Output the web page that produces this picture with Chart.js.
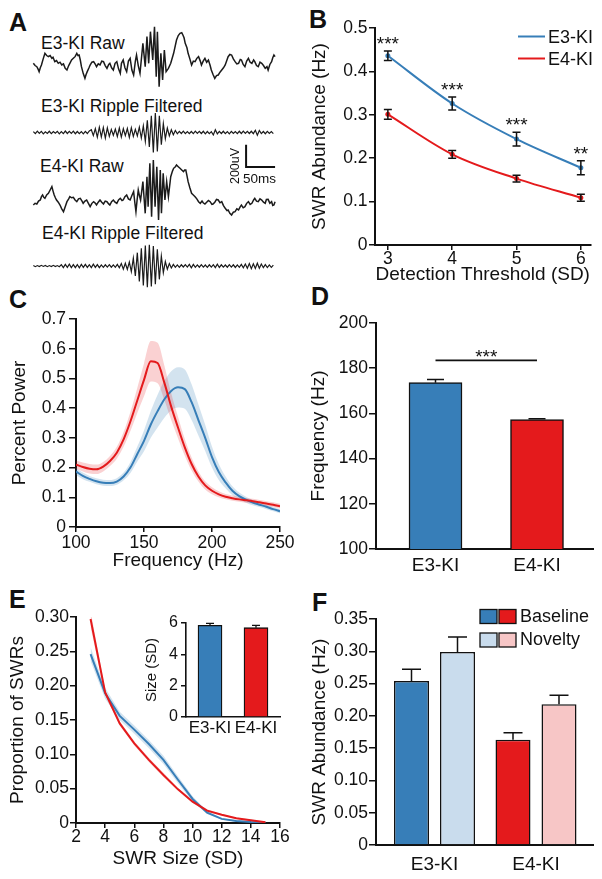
<!DOCTYPE html>
<html>
<head>
<meta charset="utf-8">
<script src="https://cdn.jsdelivr.net/npm/chart.js@4.4.1/dist/chart.umd.min.js"></script>
<style>
html,body{margin:0;padding:0;background:#fff;}
body{position:relative;width:602px;height:879px;overflow:hidden;font-family:'Liberation Sans',Arial,Helvetica,sans-serif;color:#111;}
canvas{position:absolute;}
.t{position:absolute;white-space:nowrap;font-size:17.5px;line-height:17px;}
.p{position:absolute;font-weight:bold;font-size:25px;line-height:25px;}
</style>
</head>
<body>
<div class="p" style="left:9px;top:9.7px">A</div>
<div class="p" style="left:309px;top:6.7px">B</div>
<div class="p" style="left:9px;top:286.7px">C</div>
<div class="p" style="left:311px;top:283.7px">D</div>
<div class="p" style="left:9px;top:586.7px">E</div>
<div class="p" style="left:312px;top:589.7px">F</div>
<div class="t" style="left:41px;top:35px">E3-KI Raw</div>
<div class="t" style="left:41px;top:97.8px">E3-KI Ripple Filtered</div>
<div class="t" style="left:40px;top:157.8px">E4-KI Raw</div>
<div class="t" style="left:42px;top:224.5px">E4-KI Ripple Filtered</div>
<script>
// ================= DATA =================
// Panel A: example traces (time in ms, amplitude in µV)
const e3RawTimeMs = [0,3,6,8,10,12,14,17,20,23,26,29,32,34,37,40,43,46,49,52,55,58,61,63,66,69,72,75,77,79,81,83,86,89,91,93,96,98,101,104,107,109,112,115,118,121,124,127,130,132,135,138,141,144,147,150,152,155,158,161,164,167,170,173,176,178,181,184,189,193,196,199,202,206,209,212,214,217,220,223,226,229,233,237,242,247,250,253,256,258,260,262,265,267,270,273,276,279,282,285,288,290,293,296,299,302,305,307,310,313,316,319,322,325,328,331,334,336,339,342,345,348,351,354,357,359,362,365,368,371,374,377,380,382,385,388,391,394,397,400,403,405,408,411,413,415,417];
const e3RawUv = [0,-20,-30,-50,-75,-40,-15,40,90,70,60,70,45,55,15,25,0,10,-15,-5,-45,-60,-20,0,30,45,60,90,70,75,30,-30,-90,-135,-100,-75,-40,-15,10,15,-10,-30,-5,-15,20,15,-20,-45,-10,0,-40,-60,0,15,-50,-90,0,30,-40,-75,20,45,-60,-105,20,75,-20,-90,180,-30,240,0,285,30,330,-120,285,-210,90,-150,120,-75,-45,0,90,210,250,270,275,255,230,180,140,90,40,-15,20,15,45,60,20,-15,20,45,10,30,-20,-60,-100,-135,-110,-105,-80,-60,-40,-15,30,60,80,75,40,15,-5,0,35,30,-10,-30,20,45,10,0,30,15,-20,-30,10,0,-20,-45,-30,-60,-10,15,50,75,60];
const rippleDtMs = 3.45;
const e3RippleUv = [8,-10,12,-8,10,-12,6,-9,11,-10,9,-7,10,-12,8,-10,13,-9,10,-8,12,-11,9,-10,8,-12,10,-9,14,
  25,-28,35,-42,48,-40,45,-50,42,-35,28,-25,30,-36,40,-42,34,-28,36,-45,42,-35,28,-30,48,
  -50,60,-80,110,-130,150,-180,175,-170,150,-110,80,-55,40,-30,25,-20,18,
  -12,10,-9,12,-10,8,-11,9,-10,12,-8,10,-9,11,-12,9,-10,8,-22,25,-12,10,-9,11,-10,8,-12,10,-9,8,-10,11,-9,12,-8,10,-9,11,-10,20,-24,18,-10,9,-11,10,-8,9,-10];
const e4RawTimeMs = [0,3,6,9,12,14,16,18,20,23,26,29,32,34,36,38,40,43,46,49,52,55,58,61,63,66,69,72,75,78,81,84,86,89,92,95,98,101,104,107,109,112,115,118,121,124,127,130,132,135,138,141,144,147,150,153,155,158,161,164,167,170,173,175,177,179,181,183,185,187,189,191,193,196,198,201,204,207,210,213,216,219,221,224,227,230,233,237,240,242,245,247,250,253,256,259,261,263,265,267,270,273,276,279,282,285,288,291,293,296,299,302,305,308,310,313,316,319,322,325,328,331,334,336,339,342,345,348,351,354,357,359,362,365,368,371,374,377,380,382,385,388,391,394,397,400,402,405,408,411,413,415,417];
const e4RawUv = [-45,-30,-36,-10,0,30,45,25,15,45,60,90,120,80,45,20,0,-20,-45,-80,-105,-60,-15,10,30,20,24,0,-15,10,15,-10,-30,-10,0,-30,-60,-30,-15,-30,-45,-20,0,-20,-36,-10,-15,-35,-45,-15,0,-20,-30,0,15,-5,0,30,45,10,0,40,75,-20,-105,0,90,40,0,80,165,20,-120,210,-60,330,-150,360,-60,300,-180,270,-120,240,0,165,30,210,260,285,300,315,300,285,270,255,270,270,220,165,110,60,45,30,10,-15,-30,-10,-25,-36,-20,-5,-15,-40,-36,-20,5,0,-25,-15,-50,-75,-95,-90,-120,-135,-110,-105,-80,-90,-60,-45,-70,-60,-30,-15,-40,-30,0,15,-10,-15,10,0,-20,-30,5,6,-30,-15,-50,-45,-15];
const e4RippleUv = [5,-6,4,-5,6,-4,5,-6,4,-5,6,-5,4,-6,
  12,-15,14,-12,16,-14,12,-15,13,-16,14,-12,15,-13,12,-14,16,-12,13,-15,
  10,-12,11,-10,12,-11,10,-12,14,-16,
  22,-28,25,-30,35,
  -50,70,-90,120,-140,160,-175,185,-190,190,-185,180,-165,150,-120,90,-60,40,-28,
  22,-18,14,-12,10,-12,11,-9,12,-10,14,-16,15,-12,10,-11,12,-10,9,-12,11,-10,12,-14,16,-13,11,-10,9,-11,12,-10,11,-13,10,-12,14,-16,18,-20,22,-24,20,-22,25,-20,18,-15,12,-14,10,-12,8];
const scaleBarUv = 200, scaleBarMs = 50;

// Panel B
const thresholdsSD = [3,4,5,6];
const e3Abundance = [0.436,0.326,0.244,0.178];
const e3AbundanceSem = [0.011,0.015,0.016,0.016];
const e4Abundance = [0.301,0.209,0.153,0.109];
const e4AbundanceSem = [0.011,0.009,0.008,0.008];
const thresholdSig = ['***','***','***','**'];

// Panel C
const freqHz = [100,105,110,115,120,125,130,135,140,145,150,155,160,165,170,175,180,185,190,195,200,205,210,215,220,225,230,235,240,245,250];
const e3Power = [0.187,0.172,0.162,0.154,0.149,0.148,0.153,0.170,0.200,0.245,0.290,0.345,0.390,0.430,0.458,0.470,0.464,0.420,0.360,0.300,0.235,0.185,0.150,0.122,0.104,0.092,0.082,0.075,0.068,0.060,0.053];
const e3PowerSem = [0.012,0.011,0.010,0.010,0.010,0.010,0.011,0.013,0.018,0.025,0.035,0.045,0.055,0.062,0.066,0.068,0.066,0.060,0.052,0.044,0.035,0.027,0.020,0.015,0.012,0.010,0.009,0.008,0.008,0.007,0.007];
const e4Power = [0.210,0.202,0.196,0.194,0.203,0.222,0.250,0.295,0.355,0.425,0.495,0.558,0.552,0.485,0.405,0.335,0.268,0.212,0.170,0.140,0.122,0.110,0.102,0.097,0.093,0.090,0.087,0.083,0.079,0.075,0.070];
const e4PowerSem = [0.014,0.015,0.016,0.016,0.016,0.017,0.020,0.025,0.032,0.042,0.055,0.068,0.068,0.058,0.045,0.036,0.028,0.022,0.017,0.014,0.012,0.010,0.009,0.009,0.008,0.008,0.008,0.008,0.008,0.008,0.008];

// Panel D
const genotypes = ['E3-KI','E4-KI'];
const rippleFreqHz = [173.6,157.3];
const rippleFreqSem = [1.4,0.3];
const freqSigLevel = 183.5;
const freqSig = '***';

// Panel E
const swrSizeSD = [3,4,5,6,7,8,9,10,11,12,13,14,15];
const e3Proportion = [0.246,0.189,0.156,0.136,0.115,0.092,0.063,0.035,0.015,0.006,0.003,0.0015,0.0005];
const e3ProportionSem = [0.010,0.008,0.006,0.006,0.006,0.006,0.005,0.004,0.002,0.001,0.001,0.001,0.0005];
const e4Proportion = [0.297,0.190,0.145,0.116,0.092,0.070,0.049,0.031,0.018,0.012,0.007,0.004,0.001];
const e4ProportionSem = [0.012,0.004,0.003,0.003,0.003,0.003,0.002,0.002,0.002,0.001,0.001,0.001,0.001];
const swrSizeMean = [5.85,5.70];
const swrSizeSem = [0.12,0.15];

// Panel F
const conditions = ['Baseline','Novelty'];
const baselineAbundance = [0.254,0.163];
const baselineSem = [0.018,0.011];
const noveltyAbundance = [0.299,0.218];
const noveltySem = [0.023,0.014];

// ================= STYLE / HELPERS =================
const INK = '#111111';
const BLUE = '#377EB8', RED = '#E41A1C', LBLUE = '#C9DCED', PINK = '#F7C6C6';
const BLUE_BAND = 'rgba(55,126,184,0.22)', RED_BAND = 'rgba(228,26,28,0.2)';
const FAM = "'Liberation Sans', Arial, Helvetica, sans-serif";
Chart.defaults.font.family = FAM;
Chart.defaults.color = INK;
Chart.defaults.animation = false;
Chart.defaults.responsive = false;
Chart.defaults.events = [];
Chart.defaults.plugins.legend.display = false;
Chart.defaults.plugins.tooltip.enabled = false;

function canvasAt(left, top, w, h) {
  const c = document.createElement('canvas');
  c.width = w; c.height = h;
  c.style.left = left + 'px'; c.style.top = top + 'px';
  c.style.width = w + 'px'; c.style.height = h + 'px';
  document.body.appendChild(c);
  return c.getContext('2d');
}

function axis(o) {
  const a = {
    type: 'linear', position: o.pos, min: o.min, max: o.max, offset: false,
    afterFit: s => { if (o.pos === 'left') s.width = o.size; else s.height = o.size; },
    border: {display: true, color: INK, width: o.bw || 2},
    grid: o.noTicks ? {display: false, drawTicks: false, offset: false}
      : {display: true, offset: false, drawOnChartArea: false, drawTicks: true, tickLength: o.tl || 6, color: INK, lineWidth: 1.5},
    ticks: {color: INK, font: {size: o.fs || 17.5, lineHeight: 1}, padding: o.pad || 0, autoSkip: false, maxRotation: 0, minRotation: 0},
    title: o.title ? {display: true, text: o.title, color: INK, font: {size: o.tfs || 19, lineHeight: 1.2},
      padding: o.pos === 'left' ? {top: o.tpad, bottom: 0} : {top: 0, bottom: o.tpad}} : {display: false}
  };
  if (o.step) a.ticks.stepSize = o.step;
  if (o.fmt) a.ticks.callback = o.fmt;
  if (o.at) a.afterBuildTicks = s => { s.ticks = o.at.map(v => ({value: v})); };
  return a;
}
const fmtDec = d => (v => v === 0 ? '0' : Number(v).toFixed(d));
const pts = (xs, ys) => xs.map((x, i) => ({x: x, y: ys[i]}));

const errorBars = {
  id: 'errorBars',
  afterDatasetsDraw(chart) {
    const ctx = chart.ctx;
    chart.data.datasets.forEach((ds, di) => {
      if (!ds.errors) return;
      const meta = chart.getDatasetMeta(di);
      const ys = chart.scales[meta.yAxisID];
      ctx.save();
      ctx.strokeStyle = INK; ctx.lineWidth = ds.errLineWidth || 1.5;
      meta.data.forEach((el, i) => {
        const d = ds.data[i];
        const v = typeof d === 'object' ? d.y : d;
        const e = ds.errors[i];
        const x = el.x;
        const yTop = ys.getPixelForValue(v + e);
        const yBot = ds.errUpperOnly ? ys.getPixelForValue(v) : ys.getPixelForValue(v - e);
        const cw = ds.errCap;
        ctx.beginPath();
        ctx.moveTo(x, yTop); ctx.lineTo(x, yBot);
        ctx.moveTo(x - cw, yTop); ctx.lineTo(x + cw, yTop);
        if (!ds.errUpperOnly) { ctx.moveTo(x - cw, yBot); ctx.lineTo(x + cw, yBot); }
        ctx.stroke();
      });
      ctx.restore();
    });
  }
};

// ================= PANEL A =================
function traceChart(left, top, w, h, xs, ys, xr, yr, lw, extraPlugins, pluginOpts) {
  return new Chart(canvasAt(left, top, w, h), {
    type: 'line',
    data: {datasets: [{data: pts(xs, ys), borderColor: '#1b1b1b', borderWidth: lw, pointRadius: 0, tension: 0, fill: false}]},
    options: {
      layout: {padding: 0},
      scales: {x: {type: 'linear', display: false, min: xr[0], max: xr[1]}, y: {type: 'linear', display: false, min: yr[0], max: yr[1]}},
      plugins: pluginOpts || {}
    },
    plugins: extraPlugins || []
  });
}
const traceX = [-5.75, 425.5];
const rippleTime = arr => arr.map((_, i) => i * rippleDtMs);
traceChart(30, 20, 250, 80, e3RawTimeMs, e3RawUv, traceX, [-330, 390], 1.5);
traceChart(30, 108, 250, 50, rippleTime(e3RippleUv), e3RippleUv, traceX, [-229.5, 220.5], 1.2);

const scaleBar = {
  id: 'scaleBar',
  afterDraw(chart, args, o) {
    const {ctx, scales: {x, y}} = chart;
    const x0 = x.getPixelForValue(o.t), x1 = x.getPixelForValue(o.t + scaleBarMs);
    const y0 = y.getPixelForValue(o.v), y1 = y.getPixelForValue(o.v + scaleBarUv);
    ctx.save();
    ctx.strokeStyle = INK; ctx.lineWidth = 2;
    ctx.beginPath(); ctx.moveTo(x0, y1); ctx.lineTo(x0, y0); ctx.lineTo(x1, y0); ctx.stroke();
    ctx.fillStyle = INK;
    ctx.font = "13.5px " + FAM;
    ctx.textAlign = 'left'; ctx.textBaseline = 'alphabetic';
    ctx.fillText(scaleBarMs + 'ms', x0 - 3, y0 + 16);
    ctx.font = "12.5px " + FAM;
    ctx.translate(x0 - 10.5, y0 - 1);
    ctx.rotate(-Math.PI / 2);
    ctx.textAlign = 'center'; ctx.textBaseline = 'middle';
    ctx.fillText(scaleBarUv + 'uV', 0, 0);
    ctx.restore();
  }
};
traceChart(30, 140, 250, 90, e4RawTimeMs, e4RawUv, traceX, [-270, 540], 1.5, [scaleBar], {scaleBar: {t: 367, v: 297}});
traceChart(30, 238, 250, 56, rippleTime(e4RippleUv), e4RippleUv, traceX, [-252, 252], 1.2);

// ================= PANEL B =================
const starsB = {
  id: 'starsB',
  afterDatasetsDraw(chart) {
    const {ctx, scales: {x, y}} = chart;
    ctx.save();
    ctx.fillStyle = INK; ctx.font = "19px " + FAM; ctx.textAlign = 'center'; ctx.textBaseline = 'alphabetic';
    thresholdsSD.forEach((t, i) => {
      const yTop = y.getPixelForValue(e3Abundance[i] + e3AbundanceSem[i]);
      ctx.fillText(thresholdSig[i], x.getPixelForValue(t), yTop - 1);
    });
    ctx.restore();
  }
};
const legendB = {
  id: 'legendB',
  afterDraw(chart) {
    const ctx = chart.ctx;
    const items = [[genotypes[0], BLUE, 36.5, 38], [genotypes[1], RED, 58.5, 60]];
    ctx.save();
    ctx.font = "18px " + FAM; ctx.textAlign = 'left'; ctx.textBaseline = 'middle';
    items.forEach(([txt, col, ly, ty]) => {
      ctx.strokeStyle = col; ctx.lineWidth = 2;
      ctx.beginPath(); ctx.moveTo(218, ly); ctx.lineTo(245, ly); ctx.stroke();
      ctx.fillStyle = INK; ctx.fillText(txt, 248, ty);
    });
    ctx.restore();
  }
};
new Chart(canvasAt(300, 0, 302, 290), {
  type: 'line',
  data: {datasets: [
    {data: pts(thresholdsSD, e3Abundance), errors: e3AbundanceSem, errCap: 4, borderColor: BLUE, backgroundColor: BLUE,
     borderWidth: 2, pointRadius: 2.5, pointBorderWidth: 0, cubicInterpolationMode: 'monotone'},
    {data: pts(thresholdsSD, e4Abundance), errors: e4AbundanceSem, errCap: 4, borderColor: RED, backgroundColor: RED,
     borderWidth: 2, pointRadius: 2.5, pointBorderWidth: 0, cubicInterpolationMode: 'monotone'}
  ]},
  options: {
    layout: {padding: {top: 28, right: 11.5, left: 0, bottom: 0}},
    scales: {
      x: axis({pos: 'bottom', min: 2.8, max: 6.15, size: 45, at: thresholdsSD, tl: 5, pad: 0, title: 'Detection Threshold (SD)', tpad: 4}),
      y: axis({pos: 'left', min: 0, max: 0.5, step: 0.1, size: 75, pad: 1.5, fmt: fmtDec(1), title: 'SWR Abundance (Hz)', tpad: 8.6})
    }
  },
  plugins: [errorBars, starsB, legendB]
});

// ================= PANEL C =================
function bandSets(xs, mean, sem, line, band) {
  return [
    {data: pts(xs, mean), borderColor: line, borderWidth: 2, pointRadius: 0, cubicInterpolationMode: 'monotone', fill: false},
    {data: pts(xs, mean.map((m, i) => m + sem[i])), borderWidth: 0, borderColor: 'rgba(0,0,0,0)', pointRadius: 0, cubicInterpolationMode: 'monotone', fill: false},
    {data: pts(xs, mean.map((m, i) => m - sem[i])), borderWidth: 0, borderColor: 'rgba(0,0,0,0)', pointRadius: 0, cubicInterpolationMode: 'monotone', fill: '-1', backgroundColor: band}
  ];
}
new Chart(canvasAt(0, 280, 300, 300), {
  type: 'line',
  data: {datasets: [...bandSets(freqHz, e4Power, e4PowerSem, RED, RED_BAND), ...bandSets(freqHz, e3Power, e3PowerSem, BLUE, BLUE_BAND)]},
  options: {
    layout: {padding: {top: 39, right: 20, left: 0, bottom: 0}},
    plugins: {filler: {drawTime: 'beforeDatasetsDraw'}},
    scales: {
      x: axis({pos: 'bottom', min: 100, max: 250, step: 50, size: 53, tl: 5, pad: 2, title: 'Frequency (Hz)', tpad: 7.6}),
      y: axis({pos: 'left', min: 0, max: 0.7, step: 0.1, size: 76, tl: 7, pad: 3, fmt: fmtDec(1), title: 'Percent Power', tpad: 8})
    }
  }
});

// ================= PANEL D =================
const sigD = {
  id: 'sigD',
  afterDatasetsDraw(chart) {
    const {ctx, scales: {x, y}} = chart;
    const yy = y.getPixelForValue(freqSigLevel);
    const xa = x.getPixelForValue(1), xb = x.getPixelForValue(2);
    ctx.save();
    ctx.strokeStyle = INK; ctx.lineWidth = 1.8;
    ctx.beginPath(); ctx.moveTo(xa, yy); ctx.lineTo(xb, yy); ctx.stroke();
    ctx.fillStyle = INK; ctx.font = "19px " + FAM; ctx.textAlign = 'center'; ctx.textBaseline = 'alphabetic';
    ctx.fillText(freqSig, x.getPixelForValue(1.5), yy + 3);
    ctx.restore();
  }
};
new Chart(canvasAt(300, 280, 302, 300), {
  type: 'bar',
  data: {datasets: [{data: pts([1, 2], rippleFreqHz), backgroundColor: [BLUE, RED], borderColor: INK, borderWidth: 1.5,
    barThickness: 53, errors: rippleFreqSem, errUpperOnly: true, errCap: 8.5}]},
  options: {
    layout: {padding: {top: 43, right: 9, left: 0, bottom: 0}},
    scales: {
      x: axis({pos: 'bottom', min: 0.4138, max: 2.5517, size: 31, at: [1, 2], noTicks: true, pad: 7.5, fs: 19, fmt: v => genotypes[v - 1]}),
      y: axis({pos: 'left', min: 100, max: 200, step: 20, size: 76, tl: 7, pad: 1, title: 'Frequency (Hz)', tpad: 7.6})
    }
  },
  plugins: [errorBars, sigD]
});

// ================= PANEL E =================
new Chart(canvasAt(0, 580, 300, 299), {
  type: 'line',
  data: {datasets: [...bandSets(swrSizeSD, e4Proportion, e4ProportionSem, RED, RED_BAND), ...bandSets(swrSizeSD, e3Proportion, e3ProportionSem, BLUE, BLUE_BAND)].map(d => Object.assign(d, {cubicInterpolationMode: 'default', tension: 0}))},
  options: {
    layout: {padding: {top: 37, right: 20, left: 0, bottom: 0}},
    plugins: {filler: {drawTime: 'beforeDatasetsDraw'}},
    scales: {
      x: axis({pos: 'bottom', min: 2, max: 16, step: 2, size: 56, tl: 5, pad: 0, title: 'SWR Size (SD)', tpad: 8.6}),
      y: axis({pos: 'left', min: 0, max: 0.3, step: 0.05, size: 76, tl: 6, pad: 1, fmt: fmtDec(2), title: 'Proportion of SWRs', tpad: 6})
    }
  }
});
// inset
new Chart(canvasAt(130, 605, 160, 140), {
  type: 'bar',
  data: {datasets: [{data: pts([1, 2], swrSizeMean), backgroundColor: [BLUE, RED], borderColor: INK, borderWidth: 1.3,
    barThickness: 24, errors: swrSizeSem, errUpperOnly: true, errCap: 4, errLineWidth: 1.3}]},
  options: {
    layout: {padding: {top: 18, right: 10, left: 0, bottom: 0}},
    scales: {
      x: axis({pos: 'bottom', min: 0.478, max: 2.522, size: 28, at: [1, 2], noTicks: true, pad: 3, fs: 17, bw: 1.6, fmt: v => genotypes[v - 1]}),
      y: axis({pos: 'left', min: 0, max: 6, step: 2, size: 56, tl: 5, pad: 3, fs: 16, bw: 1.6, title: 'Size (SD)', tfs: 15, tpad: 13})
    }
  },
  plugins: [errorBars]
});

// ================= PANEL F =================
const legendF = {
  id: 'legendF',
  afterDraw(chart) {
    const ctx = chart.ctx;
    const rows = [[conditions[0], BLUE, RED, 29.5, 37], [conditions[1], LBLUE, PINK, 53, 60]];
    ctx.save();
    ctx.font = "18px " + FAM; ctx.textAlign = 'left'; ctx.textBaseline = 'middle';
    rows.forEach(([txt, c1, c2, y, ty]) => {
      ctx.lineWidth = 1.3; ctx.strokeStyle = INK;
      ctx.fillStyle = c1; ctx.fillRect(180, y, 17, 14); ctx.strokeRect(180, y, 17, 14);
      ctx.fillStyle = c2; ctx.fillRect(199, y, 17, 14); ctx.strokeRect(199, y, 17, 14);
      ctx.fillStyle = INK; ctx.fillText(txt, 220, ty);
    });
    ctx.restore();
  }
};
new Chart(canvasAt(300, 580, 302, 299), {
  type: 'bar',
  data: {datasets: [
    {data: pts([1, 2], baselineAbundance), backgroundColor: [BLUE, RED], borderColor: INK, borderWidth: 1.5,
     categoryPercentage: 0.9064, barPercentage: 0.761, errors: baselineSem, errUpperOnly: true, errCap: 9.5},
    {data: pts([1, 2], noveltyAbundance), backgroundColor: [LBLUE, PINK], borderColor: INK, borderWidth: 1.5,
     categoryPercentage: 0.9064, barPercentage: 0.761, errors: noveltySem, errUpperOnly: true, errCap: 9.5}
  ]},
  options: {
    layout: {padding: {top: 39, right: 9, left: 0, bottom: 0}},
    scales: {
      x: axis({pos: 'bottom', min: 0.4236, max: 2.5616, size: 34, at: [1, 2], noTicks: true, pad: 10.5, fs: 19, fmt: v => genotypes[v - 1]}),
      y: axis({pos: 'left', min: 0, max: 0.35, step: 0.05, size: 76, tl: 7, pad: 1, fmt: fmtDec(2), title: 'SWR Abundance (Hz)', tpad: 8.6})
    }
  },
  plugins: [errorBars, legendF]
});
</script>
</body>
</html>
